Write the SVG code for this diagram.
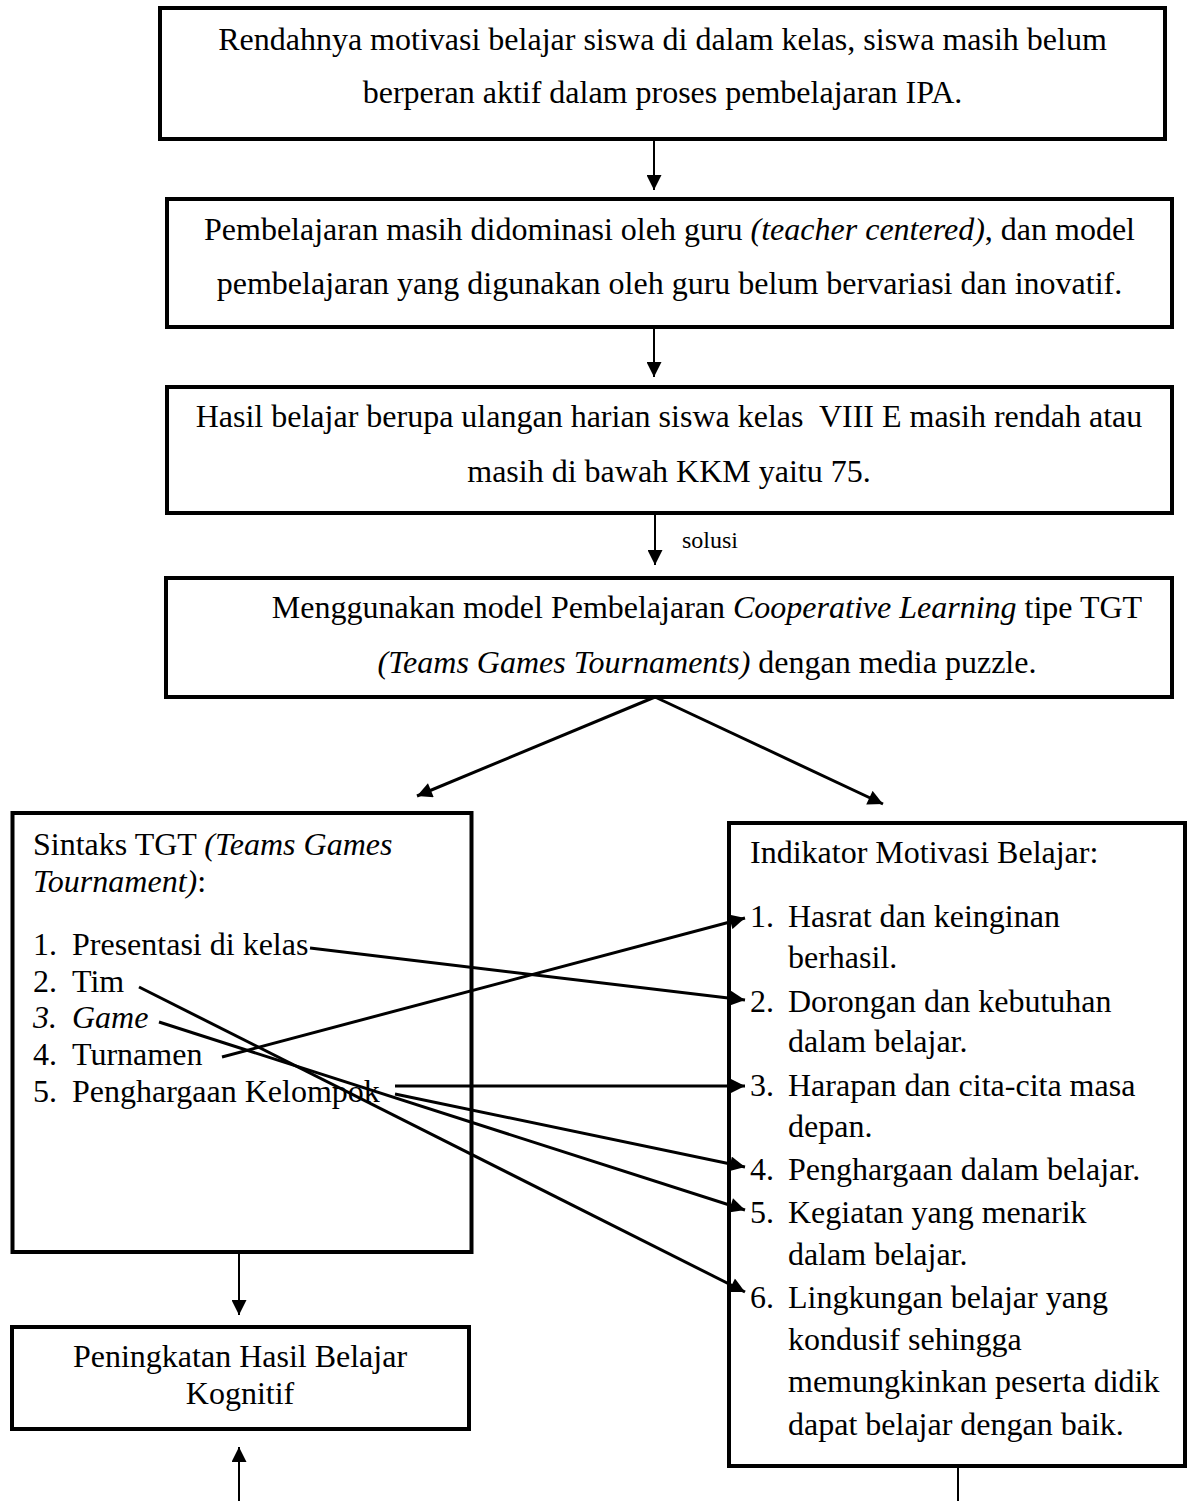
<svg xmlns="http://www.w3.org/2000/svg" width="1193" height="1501" viewBox="0 0 1193 1501">
<style>
.box{fill:#fff;stroke:#000;stroke-width:4}
text{font-family:"Liberation Serif","Times New Roman",serif;font-size:32px;fill:#000}
.c{text-anchor:middle}
.i{font-style:italic}
.lbl{font-size:24px}
.ln{stroke:#000;stroke-width:3;fill:none}
.v{stroke:#000;stroke-width:2;fill:none}
</style>
<defs>
<marker id="ah" viewBox="0 0 10 10" refX="10" refY="5" markerUnits="userSpaceOnUse" markerWidth="16" markerHeight="15" orient="auto">
<path d="M0,0 L10,5 L0,10 z" fill="#000"/>
</marker>
</defs>
<rect width="1193" height="1501" fill="#fff"/>
<g id="n1">
<rect class="box" x="160" y="8" width="1005" height="131"/>
<text class="c" x="662.5" y="50">Rendahnya motivasi belajar siswa di dalam kelas, siswa masih belum</text>
<text class="c" x="662.5" y="103">berperan aktif dalam proses pembelajaran IPA.</text>
</g>
<g id="n2">
<rect class="box" x="167" y="199" width="1005" height="128"/>
<text class="c" x="669.5" y="240">Pembelajaran masih didominasi oleh guru <tspan class="i">(teacher centered)</tspan>, dan model</text>
<text class="c" x="669.5" y="294">pembelajaran yang digunakan oleh guru belum bervariasi dan inovatif.</text>
</g>
<g id="n3">
<rect class="box" x="167" y="387" width="1005" height="126"/>
<text class="c" x="669" y="427" style="white-space:pre">Hasil belajar berupa ulangan harian siswa kelas  VIII E masih rendah atau</text>
<text class="c" x="669" y="482">masih di bawah KKM yaitu 75.</text>
</g>
<g id="n4">
<rect class="box" x="166" y="578" width="1006" height="119"/>
<text class="c" x="707" y="618">Menggunakan model Pembelajaran <tspan class="i">Cooperative Learning</tspan> tipe TGT</text>
<text class="c" x="707" y="673"><tspan class="i">(Teams Games Tournaments)</tspan> dengan media puzzle.</text>
</g>
<g id="n5">
<rect class="box" x="12.5" y="813" width="459" height="439"/>
<text x="33" y="855">Sintaks TGT <tspan class="i">(Teams Games</tspan></text>
<text x="33" y="892"><tspan class="i">Tournament)</tspan>:</text>
<text x="33" y="955">1.</text><text x="72" y="955">Presentasi di kelas</text>
<text x="33" y="992">2.</text><text x="72" y="992">Tim</text>
<text class="i" x="33" y="1028">3.</text><text class="i" x="72" y="1028">Game</text>
<text x="33" y="1065">4.</text><text x="72" y="1065">Turnamen</text>
<text x="33" y="1102">5.</text><text x="72" y="1102">Penghargaan Kelompok</text>
</g>
<g id="n6">
<rect class="box" x="729" y="823" width="456" height="643"/>
<text x="750" y="863">Indikator Motivasi Belajar:</text>
<text x="750" y="927">1.</text><text x="788" y="927">Hasrat dan keinginan</text>
<text x="788" y="968">berhasil.</text>
<text x="750" y="1012">2.</text><text x="788" y="1012">Dorongan dan kebutuhan</text>
<text x="788" y="1052">dalam belajar.</text>
<text x="750" y="1096">3.</text><text x="788" y="1096">Harapan dan cita-cita masa</text>
<text x="788" y="1137">depan.</text>
<text x="750" y="1180">4.</text><text x="788" y="1180">Penghargaan dalam belajar.</text>
<text x="750" y="1223">5.</text><text x="788" y="1223">Kegiatan yang menarik</text>
<text x="788" y="1265">dalam belajar.</text>
<text x="750" y="1308">6.</text><text x="788" y="1308">Lingkungan belajar yang</text>
<text x="788" y="1350">kondusif sehingga</text>
<text x="788" y="1392">memungkinkan peserta didik</text>
<text x="788" y="1435">dapat belajar dengan baik.</text>
</g>
<g id="n7">
<rect class="box" x="12" y="1327" width="457" height="102"/>
<text class="c" x="240" y="1367">Peningkatan Hasil Belajar</text>
<text class="c" x="240" y="1404">Kognitif</text>
</g>
<g id="connectors">
<line class="v" x1="654" y1="139" x2="654" y2="190" marker-end="url(#ah)"/>
<line class="v" x1="654" y1="327" x2="654" y2="377" marker-end="url(#ah)"/>
<line class="v" x1="655" y1="513" x2="655" y2="565" marker-end="url(#ah)"/>
<text class="lbl" x="682" y="548">solusi</text>
<line class="ln" x1="655" y1="697" x2="417" y2="796" marker-end="url(#ah)"/>
<line class="ln" x1="655" y1="697" x2="883" y2="804" marker-end="url(#ah)"/>
<line class="ln" x1="310" y1="948" x2="745" y2="1000" marker-end="url(#ah)"/>
<line class="ln" x1="222" y1="1057" x2="745" y2="918" marker-end="url(#ah)"/>
<line class="ln" x1="139" y1="987" x2="745" y2="1292" marker-end="url(#ah)"/>
<line class="ln" x1="159" y1="1022" x2="745" y2="1210" marker-end="url(#ah)"/>
<line class="ln" x1="395" y1="1086" x2="745" y2="1086" marker-end="url(#ah)"/>
<line class="ln" x1="395" y1="1094" x2="745" y2="1167" marker-end="url(#ah)"/>
<line class="v" x1="239" y1="1252" x2="239" y2="1315" marker-end="url(#ah)"/>
<line class="v" x1="239" y1="1501" x2="239" y2="1447" marker-end="url(#ah)"/>
<line class="v" x1="958" y1="1466" x2="958" y2="1501"/>
</g>
</svg>
